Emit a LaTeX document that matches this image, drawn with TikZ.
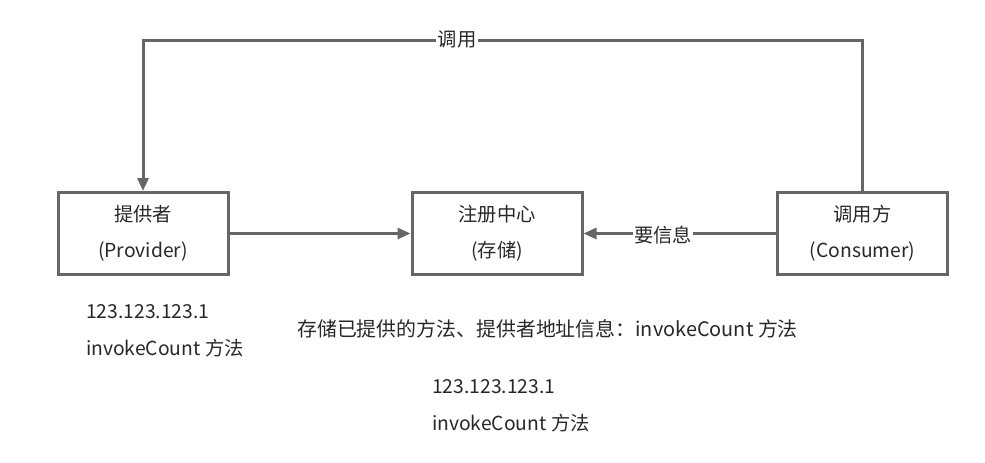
\documentclass[tikz,border=0pt]{standalone}
\usepackage{fontspec}
\setmainfont{Noto Sans CJK SC}
\usetikzlibrary{arrows.meta}
\definecolor{ln}{RGB}{102,102,102}
\definecolor{tx}{RGB}{40,40,40}
\begin{document}
\begin{tikzpicture}[x=1pt,y=-1pt,
  box/.style={draw=ln,line width=3pt,minimum width=170pt,minimum height=82pt,inner sep=0pt,
    align=center,text=tx,font=\fontsize{19.3}{36}\selectfont},
  conn/.style={draw=ln,line width=3pt,-{Triangle[length=13pt,width=11pt]}},
  lbl/.style={text=tx,font=\fontsize{19.3}{37}\selectfont,inner sep=0pt},
  onlbl/.style={lbl,fill=white,inner sep=1.5pt}]
\useasboundingbox (0,0) rectangle (985,463);
\node[box] (prov) at (143,233.5) {提供者\\(Provider)};
\node[box] (reg) at (497,233.5) {注册中心\\(存储)};
\node[box] (cons) at (862.5,233.5) {调用方\\(Consumer)};
\coordinate (tr) at (862.5,40);
\coordinate (tl) at (143,40);
\draw[conn] (prov.east) -- (reg.west);
\draw[conn] (cons.west) -- (reg.east);
\draw[conn] (cons.north) -- (tr) -- (tl) -- (prov.north);
\node[onlbl] (callLbl) at (457,39) {调用};
\node[onlbl] (infoLbl) at (663,235) {要信息};
\node[lbl,anchor=west,align=left] (provNote) at (86,331) {123.123.123.1\\invokeCount 方法};
\node[lbl,anchor=west,font=\fontsize{19.9}{24}\selectfont] (regNote) at (297,329) {存储已提供的方法、提供者地址信息：invokeCount 方法};
\node[lbl,anchor=west,align=left] (bottomNote) at (432,406) {123.123.123.1\\invokeCount 方法};
\end{tikzpicture}
\end{document}
